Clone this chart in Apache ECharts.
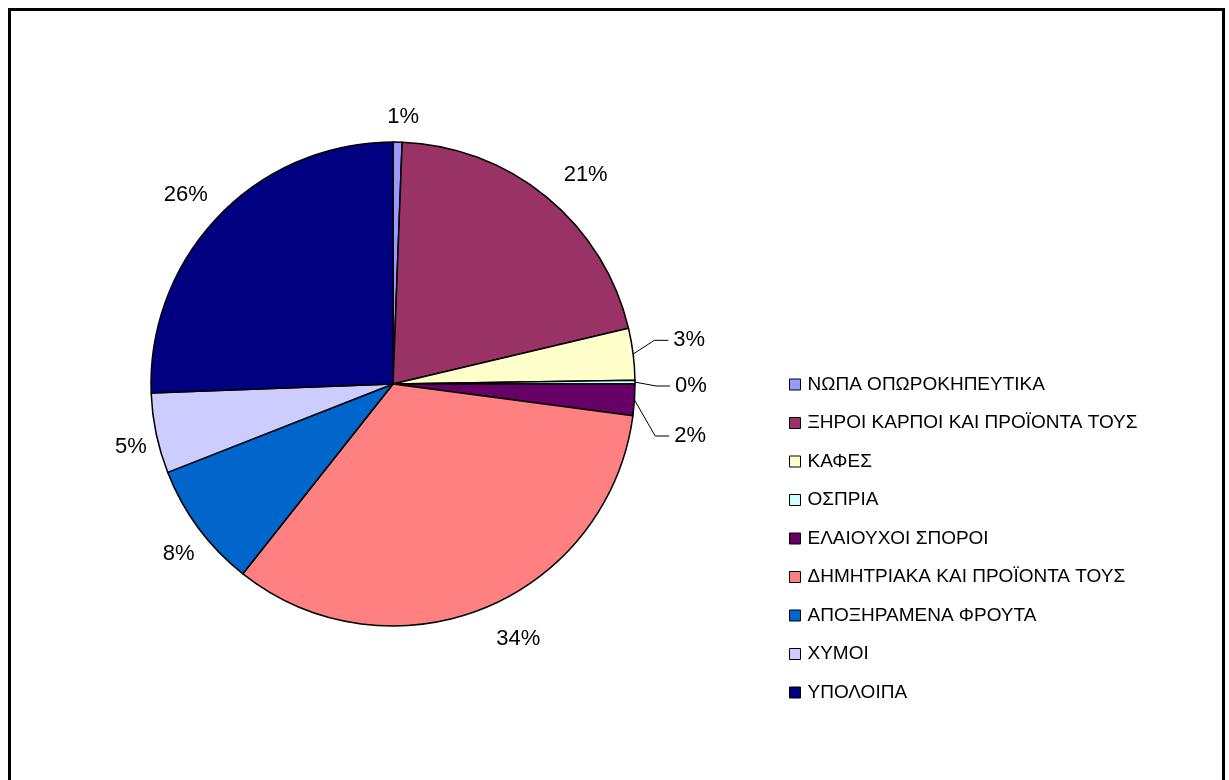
<!DOCTYPE html>
<html>
<head>
<meta charset="utf-8">
<script src="https://cdn.jsdelivr.net/npm/echarts@6/dist/echarts.min.js"></script>
<style>
html, body { margin: 0; padding: 0; background: #fff; }
#main { width: 1229px; height: 780px; }
</style>
</head>
<body>
<div id="main"></div>
<script>
// κατηγορίες και μερίδια (%) όπως διαβάζονται από την πίτα
var categories = ['ΝΩΠΑ ΟΠΩΡΟΚΗΠΕΥΤΙΚΑ', 'ΞΗΡΟΙ ΚΑΡΠΟΙ ΚΑΙ ΠΡΟΪΟΝΤΑ ΤΟΥΣ', 'ΚΑΦΕΣ', 'ΟΣΠΡΙΑ',
    'ΕΛΑΙΟΥΧΟΙ ΣΠΟΡΟΙ', 'ΔΗΜΗΤΡΙΑΚΑ ΚΑΙ ΠΡΟΪΟΝΤΑ ΤΟΥΣ', 'ΑΠΟΞΗΡΑΜΕΝΑ ΦΡΟΥΤΑ', 'ΧΥΜΟΙ', 'ΥΠΟΛΟΙΠΑ'];
var values = [0.6, 20.7, 3.45, 0.25, 2.1, 33.55, 8.4, 5.35, 25.6];
var colors = ['#9999FF', '#993366', '#FFFFCC', '#CCFFFF', '#660066', '#FF8080', '#0066CC', '#CCCCFF', '#000080'];

// μικρές φέτες με γραμμή οδηγό
var leaderIdx = [2, 3, 4];
// διόρθωση θέσης ετικετών (dx, dy) ώστε να πέφτουν όπως στο Excel
var labelShift = {
    0: [0, 11], 1: [16, 6], 2: [12, -12], 3: [12, 4], 4: [12, 30],
    5: [16, -3], 6: [14, 4], 7: [15, 6], 8: [-2, 4]
};

var myChart = echarts.init(document.getElementById('main'));

var pieData = categories.map(function (name, i) {
    var item = { name: name, value: values[i] };
    if (leaderIdx.indexOf(i) >= 0) {
        item.labelLine = { show: true, length: 14, length2: 14 };
    }
    return item;
});

var option = {
    backgroundColor: '#fff',
    animation: false,
    color: colors,
    textStyle: { fontFamily: 'Liberation Sans, Arial, sans-serif' },
    graphic: [{
        type: 'rect',
        shape: { x: 9.5, y: 9.5, width: 1214, height: 800 },
        style: { fill: 'none', stroke: '#000', lineWidth: 3 }
    }],
    legend: {
        orient: 'vertical',
        left: 789,
        top: 375,
        padding: 0,
        itemWidth: 11,
        itemHeight: 11,
        itemGap: 19.5,
        icon: 'rect',
        itemStyle: { borderColor: '#000', borderWidth: 1 },
        textStyle: {
            fontSize: 19,
            lineHeight: 19,
            color: '#000',
            padding: [0, 0, 0, 2],
            fontFamily: 'Liberation Sans, Arial, sans-serif'
        },
        data: categories
    },
    series: [{
        type: 'pie',
        center: [393, 384],
        radius: 242,
        startAngle: 90,
        clockwise: true,
        percentPrecision: 0,
        avoidLabelOverlap: true,
        itemStyle: { borderColor: '#000', borderWidth: 1.5 },
        label: {
            show: true,
            position: 'outside',
            formatter: '{d}%',
            fontSize: 22,
            color: '#000',
            fontFamily: 'Liberation Sans, Arial, sans-serif'
        },
        labelLine: {
            show: false,
            length: 36,
            length2: 0,
            lineStyle: { color: '#000', width: 1 }
        },
        labelLayout: function (params) {
            var s = labelShift[params.dataIndex] || [0, 0];
            if (leaderIdx.indexOf(params.dataIndex) < 0) {
                return { align: 'center', dx: s[0], dy: s[1] };
            }
            // μετακίνηση της ετικέτας μαζί με το σπάσιμο της γραμμής
            var pts = params.labelLinePoints;
            var out = { dx: s[0], dy: s[1] };
            if (pts) {
                out.labelLinePoints = [
                    pts[0],
                    [pts[1][0] + s[0], pts[1][1] + s[1]],
                    [pts[2][0] + s[0], pts[2][1] + s[1]]
                ];
            }
            return out;
        },
        data: pieData
    }]
};

myChart.setOption(option);
</script>
</body>
</html>
